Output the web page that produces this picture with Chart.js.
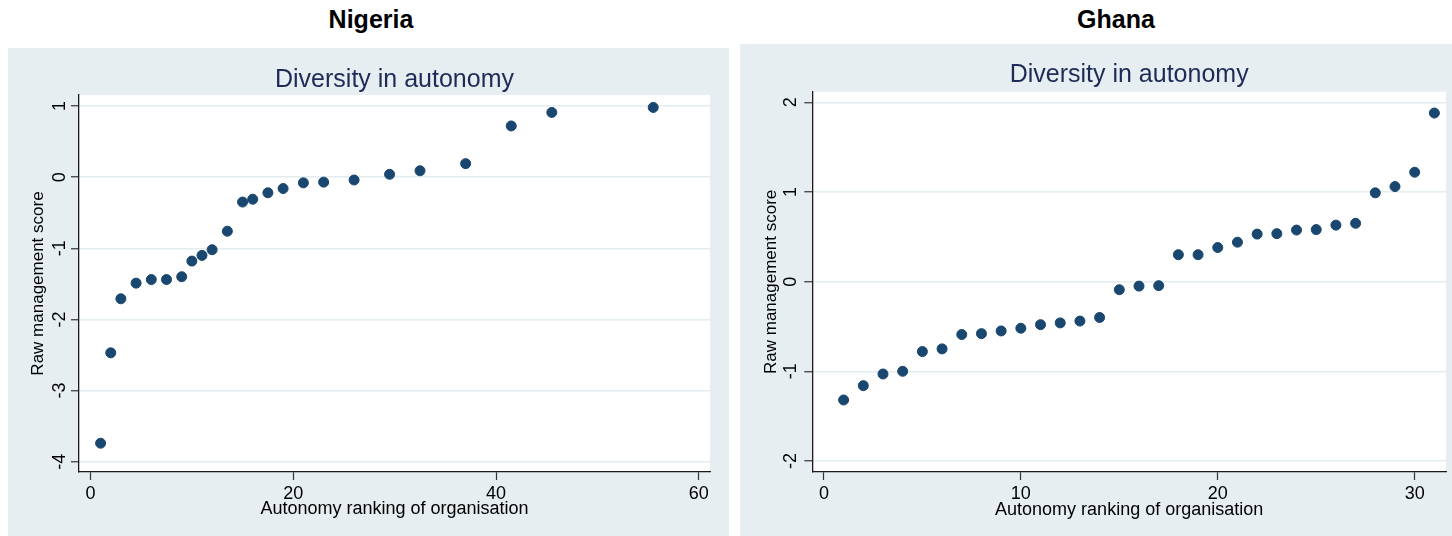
<!DOCTYPE html>
<html>
<head>
<meta charset="utf-8">
<script src="https://cdn.jsdelivr.net/npm/chart.js@4.4.1/dist/chart.umd.min.js"></script>
<style>
    body { margin: 0; background: #fff; width: 1452px; height: 536px; overflow: hidden; position: relative;
           font-family: "Liberation Sans", Arial, sans-serif; }
    .country { position: absolute; top: 7px; font-weight: bold; font-size: 25px; line-height: 1; color: #000;
               transform: translateX(-50%); white-space: nowrap; }
    .panel { position: absolute; background: #e6eef1; }
</style>
</head>
<body>
<div class="country" style="left:371px">Nigeria</div>
<div class="country" style="left:1116px">Ghana</div>
<div class="panel" style="left:8px;top:48px;width:721px;height:488px"><canvas id="nigeriaChart"></canvas></div>
<div class="panel" style="left:740px;top:44px;width:712px;height:492px"><canvas id="ghanaChart"></canvas></div>
<script>
// Nigeria: rank of organisation (ties averaged) and raw management score
const nigeriaRank = [1, 2, 3, 4.5, 6, 7.5, 9, 10, 11, 12, 13.5, 15, 16, 17.5, 19, 21, 23, 26, 29.5, 32.5, 37, 41.5, 45.5, 55.5];
const nigeriaScore = [-3.74, -2.47, -1.71, -1.49, -1.44, -1.44, -1.40, -1.18, -1.10, -1.02, -0.76, -0.35,
                      -0.31, -0.22, -0.16, -0.08, -0.07, -0.04, 0.04, 0.09, 0.19, 0.72, 0.91, 0.98];
const nigeriaXTicks = [0, 20, 40, 60];
const nigeriaYTicks = [-4, -3, -2, -1, 0, 1];

// Ghana
const ghanaRank = [1, 2, 3, 4, 5, 6, 7, 8, 9, 10, 11, 12, 13, 14, 15, 16, 17, 18, 19, 20, 21, 22, 23, 24, 25, 26, 27, 28, 29, 30, 31];
const ghanaScore = [-1.32, -1.16, -1.03, -1.00, -0.78, -0.75, -0.59, -0.58, -0.55, -0.52, -0.48, -0.46, -0.44, -0.40,
                    -0.09, -0.05, -0.045, 0.30, 0.30, 0.38, 0.44, 0.53, 0.535, 0.575, 0.58, 0.63, 0.65, 0.99, 1.06, 1.22, 1.88];
const ghanaXTicks = [0, 10, 20, 30];
const ghanaYTicks = [-2, -1, 0, 1, 2];

const FONT = '"Liberation Sans", Arial, sans-serif';
Chart.defaults.font.family = FONT;

// white plot region inside the grey panel
const plotBg = {
    id: 'plotBg',
    beforeDraw(chart) {
        const a = chart.chartArea;
        chart.ctx.save();
        chart.ctx.fillStyle = '#fff';
        chart.ctx.fillRect(a.left, a.top, a.right - a.left, a.bottom - a.top);
        chart.ctx.restore();
    }
};

// y tick labels are turned on their side, as in the original
const yTickText = {
    id: 'yTickText',
    afterDraw(chart, args, opts) {
        const ctx = chart.ctx;
        const y = chart.scales.y;
        ctx.save();
        ctx.fillStyle = '#000';
        ctx.font = '18px ' + FONT;
        ctx.textAlign = 'center';
        ctx.textBaseline = 'middle';
        y.ticks.forEach(t => {
            ctx.save();
            ctx.translate(chart.chartArea.left - opts.gap, y.getPixelForValue(t.value));
            ctx.rotate(-Math.PI / 2);
            ctx.fillText(String(t.value), 0, 0);
            ctx.restore();
        });
        ctx.restore();
    }
};

function makePanel(id, ranks, scores, xTicks, yTicks, c) {
    return new Chart(document.getElementById(id), {
        type: 'scatter',
        data: {
            datasets: [{
                data: ranks.map((r, i) => ({ x: r, y: scores[i] })),
                backgroundColor: '#1a476f',
                borderColor: '#1a476f',
                pointRadius: 5,
                pointHoverRadius: 5
            }]
        },
        options: {
            responsive: true,
            maintainAspectRatio: false,
            animation: false,
            events: [],
            layout: { padding: { left: 0, top: 0, right: c.padRight, bottom: 0 } },
            plugins: {
                legend: { display: false },
                tooltip: { enabled: false },
                title: {
                    display: true,
                    fullSize: false,
                    text: 'Diversity in autonomy',
                    color: '#1e2b57',
                    font: { size: 25, weight: 'normal' },
                    padding: { top: c.titleTop, bottom: c.titleBottom }
                },
                yTickText: { gap: c.yLabelGap }
            },
            scales: {
                x: {
                    type: 'linear',
                    min: c.xMin, max: c.xMax,
                    afterBuildTicks: s => { s.ticks = xTicks.map(v => ({ value: v })); },
                    afterFit: s => { s.height = c.xHeight; },
                    grid: { drawOnChartArea: false, drawTicks: true, tickLength: 8, tickColor: '#333', tickWidth: 1.2 },
                    border: { display: true, color: '#1a1a1a', width: 1.3 },
                    ticks: { color: '#000', font: { size: 18 }, padding: 3, maxRotation: 0, autoSkip: false },
                    title: { display: true, text: 'Autonomy ranking of organisation', color: '#000',
                             font: { size: 18 }, padding: { top: 0, bottom: c.xTitlePad } }
                },
                y: {
                    type: 'linear',
                    min: c.yMin, max: c.yMax,
                    afterBuildTicks: s => { s.ticks = yTicks.map(v => ({ value: v })); },
                    afterFit: s => { s.width = c.yWidth; },
                    grid: { color: '#e3ecef', lineWidth: 1.5, drawTicks: true, tickLength: 8, tickColor: '#333', tickWidth: 1.2 },
                    border: { display: true, color: '#1a1a1a', width: 1.3 },
                    ticks: { display: false },
                    title: { display: true, text: 'Raw management score', color: '#000',
                             font: { size: 17 }, padding: { top: c.yTitlePad, bottom: 0 } }
                }
            }
        },
        plugins: [plotBg, yTickText]
    });
}

makePanel('nigeriaChart', nigeriaRank, nigeriaScore, nigeriaXTicks, nigeriaYTicks, {
    xMin: -1.13, xMax: 61.1, yMin: -4.145, yMax: 1.155,
    padRight: 19, yWidth: 71, xHeight: 64,
    titleTop: 16.7, titleBottom: 0.3, yLabelGap: 18.5, yTitlePad: 20, xTitlePad: 16
});

makePanel('ghanaChart', ghanaRank, ghanaScore, ghanaXTicks, ghanaYTicks, {
    xMin: -0.59, xMax: 31.59, yMin: -2.123, yMax: 2.118,
    padRight: 3.3, yWidth: 72.3, xHeight: 64,
    titleTop: 16, titleBottom: 1.7, yLabelGap: 21.5, yTitlePad: 21, xTitlePad: 15.2
});
</script>
</body>
</html>
